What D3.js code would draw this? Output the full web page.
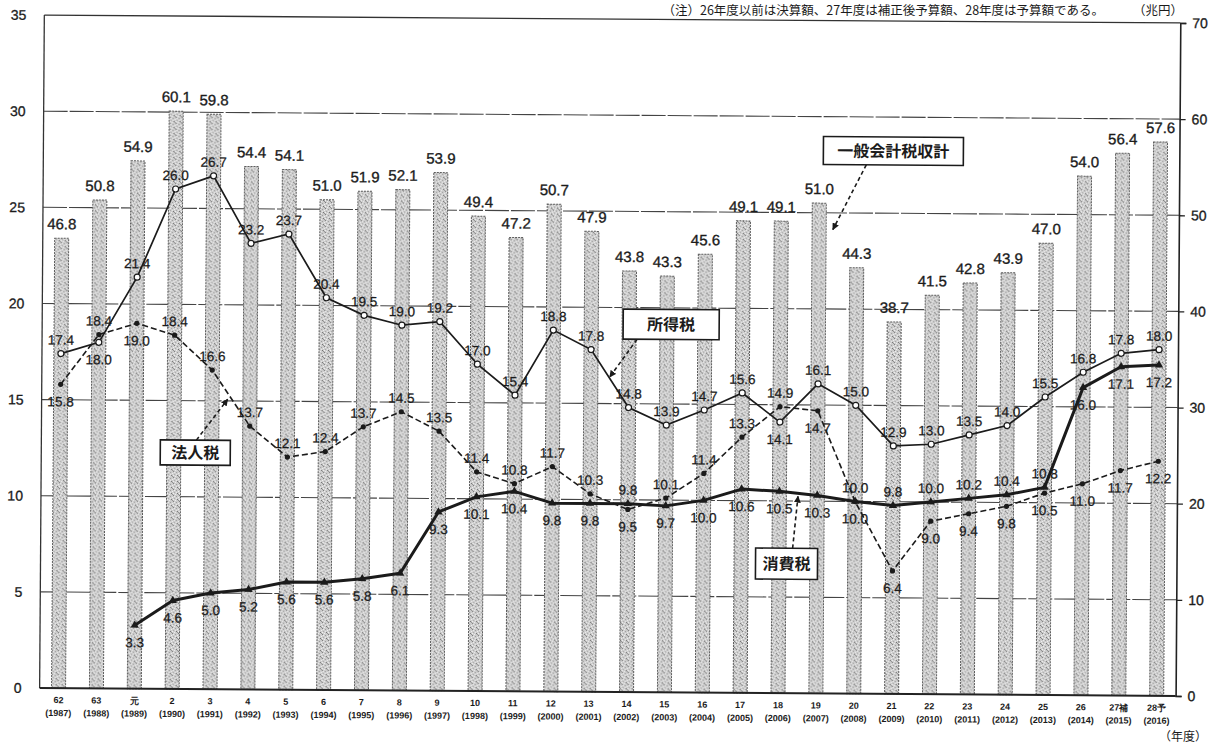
<!DOCTYPE html>
<html>
<head>
<meta charset="utf-8">
<script src="https://cdn.jsdelivr.net/npm/d3@7"></script>
<style>
  html, body { margin: 0; padding: 0; background: #fff; }
  svg { display: block; }
</style>
</head>
<body>
<svg id="chart" width="1209" height="744"></svg>
<script>
// 年度 (Japanese fiscal years) and their western equivalents
const fiscalYears = ["62","63","元","2","3","4","5","6","7","8","9","10","11","12","13","14","15","16","17","18","19","20","21","22","23","24","25","26","27補","28予"];
const westernYears = ["1987","1988","1989","1990","1991","1992","1993","1994","1995","1996","1997","1998","1999","2000","2001","2002","2003","2004","2005","2006","2007","2008","2009","2010","2011","2012","2013","2014","2015","2016"];

// 一般会計税収計 (兆円, right axis)
const totalRevenue = [46.8,50.8,54.9,60.1,59.8,54.4,54.1,51.0,51.9,52.1,53.9,49.4,47.2,50.7,47.9,43.8,43.3,45.6,49.1,49.1,51.0,44.3,38.7,41.5,42.8,43.9,47.0,54.0,56.4,57.6];
// 所得税 (兆円, left axis)
const incomeTax = [17.4,18.0,21.4,26.0,26.7,23.2,23.7,20.4,19.5,19.0,19.2,17.0,15.4,18.8,17.8,14.8,13.9,14.7,15.6,14.1,16.1,15.0,12.9,13.0,13.5,14.0,15.5,16.8,17.8,18.0];
// 法人税 (兆円, left axis)
const corporateTax = [15.8,18.4,19.0,18.4,16.6,13.7,12.1,12.4,13.7,14.5,13.5,11.4,10.8,11.7,10.3,9.5,10.1,11.4,13.3,14.9,14.7,10.0,6.4,9.0,9.4,9.8,10.5,11.0,11.7,12.2];
// 消費税 (兆円, left axis) — introduced in 元年度
const consumptionTax = [null,null,3.3,4.6,5.0,5.2,5.6,5.6,5.8,6.1,9.3,10.1,10.4,9.8,9.8,9.8,9.7,10.0,10.6,10.5,10.3,10.0,9.8,10.0,10.2,10.4,10.8,16.0,17.1,17.2];

const leftTicks = [0,5,10,15,20,25,30,35];
const rightTicks = [0,10,20,30,40,50,60,70];

// Value labels that sit under their point rather than above it
const incomeBelow = new Set(["63","18"]);
const corporateBelow = new Set(["62","元","14","19","20","21","22","23","24","25","26","27補","28予"]);
const consumptionAbove = new Set(["14","20","21","22","23","24","25"]);

const NUM_FONT = "'Liberation Sans Narrow','Arial Narrow','Liberation Sans',Arial,sans-serif";
const JP_FONT = "'Noto Sans CJK JP','Noto Sans',sans-serif";
const INK = "#1b1b1b";

const plot = { left: 42, right: 1178, top: 19, bottom: 692 };

const svg = d3.select("#chart");
const defs = svg.append("defs");

// speckled grey fill for the revenue bars
const pat = defs.append("pattern")
  .attr("id", "stipple").attr("width", 6).attr("height", 6)
  .attr("patternUnits", "userSpaceOnUse");
pat.append("rect").attr("width", 6).attr("height", 6).attr("fill", "#cdcdcd");
[[0,0,"#7a7a7a"],[3,1,"#9a9a9a"],[1,3,"#a8a8a8"],[4,4,"#707070"],[2,5,"#efefef"],
 [5,2,"#f1f1f1"],[0,4,"#f3f3f3"],[3,3,"#e9e9e9"],[5,5,"#8e8e8e"],[1,1,"#eeeeee"]]
  .forEach(([x, y, c]) => pat.append("rect").attr("x", x).attr("y", y)
    .attr("width", 1).attr("height", 1).attr("fill", c));

defs.append("marker")
  .attr("id", "arrowHead").attr("viewBox", "0 0 10 10")
  .attr("refX", 9).attr("refY", 5)
  .attr("markerWidth", 7).attr("markerHeight", 7)
  .attr("markerUnits", "userSpaceOnUse")
  .attr("orient", "auto")
  .append("path").attr("d", "M0,0 L10,5 L0,10 z").attr("fill", INK);

// note line and unit along the top edge
svg.append("text")
  .attr("x", 1104).attr("y", 15)
  .attr("text-anchor", "end")
  .attr("font-family", JP_FONT).attr("font-size", 12.5).attr("fill", INK)
  .text("（注）26年度以前は決算額、27年度は補正後予算額、28年度は予算額である。");
svg.append("text")
  .attr("x", 1183).attr("y", 15)
  .attr("text-anchor", "end")
  .attr("font-family", JP_FONT).attr("font-size", 12.5).attr("fill", INK)
  .text("（兆円）");

// the printed page sits with a slight clockwise tilt
const g = svg.append("g").attr("transform", "rotate(0.4 610 350)");

const x = d3.scaleBand()
  .domain(fiscalYears)
  .range([plot.left, plot.right])
  .paddingInner(0.63)
  .paddingOuter(0.315);
const cx = d => x(d) + x.bandwidth() / 2;

const yL = d3.scaleLinear().domain([0, 35]).range([plot.bottom, plot.top]);
const yR = d3.scaleLinear().domain([0, 70]).range([plot.bottom, plot.top]);

// horizontal gridlines
g.append("g").selectAll("line")
  .data(leftTicks.filter(t => t > 0 && t < 35))
  .join("line")
  .attr("x1", plot.left).attr("x2", plot.right)
  .attr("y1", d => yL(d)).attr("y2", d => yL(d))
  .attr("stroke", "#444").attr("stroke-width", 1.1)
  .attr("stroke-dasharray", "24,2");

// top frame line
g.append("line")
  .attr("x1", plot.left).attr("x2", plot.right)
  .attr("y1", yL(35)).attr("y2", yL(35))
  .attr("stroke", "#333").attr("stroke-width", 1.3);

// revenue bars
g.append("g").selectAll("rect")
  .data(totalRevenue)
  .join("rect")
  .attr("x", (d, i) => x(fiscalYears[i]))
  .attr("width", x.bandwidth())
  .attr("y", d => yR(d))
  .attr("height", d => yR(0) - yR(d))
  .attr("fill", "url(#stipple)")
  .attr("stroke", "#5e5e5e").attr("stroke-width", 1)
  .attr("stroke-dasharray", "2,1");

g.append("g").selectAll("text")
  .data(totalRevenue)
  .join("text")
  .attr("x", (d, i) => cx(fiscalYears[i]))
  .attr("y", d => yR(d) - 9)
  .attr("text-anchor", "middle")
  .attr("font-family", NUM_FONT).attr("font-size", 15).attr("fill", INK)
  .attr("stroke", INK).attr("stroke-width", 0.35)
  .text(d => d.toFixed(1));

// axes frame
g.append("line")
  .attr("x1", plot.left).attr("x2", plot.left)
  .attr("y1", plot.top).attr("y2", plot.bottom)
  .attr("stroke", "#333").attr("stroke-width", 1.3);
g.append("line")
  .attr("x1", plot.left).attr("x2", plot.right)
  .attr("y1", plot.bottom).attr("y2", plot.bottom)
  .attr("stroke", "#222").attr("stroke-width", 2);

// left axis labels
const leftAxis = g.append("g")
  .attr("transform", `translate(${plot.left},0)`)
  .call(d3.axisLeft(yL).tickValues(leftTicks).tickSize(0).tickPadding(18));
leftAxis.select(".domain").remove();
leftAxis.selectAll("text")
  .attr("font-family", NUM_FONT).attr("font-size", 14).attr("fill", INK)
  .attr("stroke", INK).attr("stroke-width", 0.3);

// right axis
const rightAxis = g.append("g")
  .attr("transform", `translate(${plot.right},0)`)
  .call(d3.axisRight(yR).tickValues(rightTicks).tickSize(6).tickPadding(6));
rightAxis.select(".domain").attr("stroke", "#222").attr("stroke-width", 1.6);
rightAxis.selectAll(".tick line").attr("stroke", "#222").attr("stroke-width", 1.3);
rightAxis.selectAll("text")
  .attr("font-family", NUM_FONT).attr("font-size", 14).attr("fill", INK)
  .attr("stroke", INK).attr("stroke-width", 0.3);

// year labels below the axis
const xl = g.append("g");
xl.selectAll("text.fy")
  .data(fiscalYears)
  .join("text").attr("class", "fy")
  .attr("x", d => cx(d)).attr("y", 707)
  .attr("text-anchor", "middle")
  .attr("font-family", NUM_FONT).attr("font-size", 9).attr("font-weight", "bold").attr("fill", INK)
  .text(d => d);
xl.selectAll("text.wy")
  .data(westernYears)
  .join("text").attr("class", "wy")
  .attr("x", (d, i) => cx(fiscalYears[i])).attr("y", 720)
  .attr("text-anchor", "middle")
  .attr("font-family", NUM_FONT).attr("font-size", 9).attr("font-weight", "bold").attr("fill", INK)
  .text(d => `(${d})`);

// unit of the category axis, in the lower right corner
svg.append("text")
  .attr("x", 1207).attr("y", 741)
  .attr("text-anchor", "end")
  .attr("font-family", JP_FONT).attr("font-size", 12).attr("fill", INK)
  .text("（年度）");

// tax lines
const lineGen = d3.line()
  .defined(d => d.v != null)
  .x(d => cx(d.k))
  .y(d => yL(d.v));
const pts = arr => arr.map((v, i) => ({ k: fiscalYears[i], v }));

function valueLabels(data, isBelow) {
  g.append("g").selectAll("text")
    .data(pts(data).filter(d => d.v != null))
    .join("text")
    .attr("x", d => cx(d.k))
    .attr("y", d => yL(d.v) + (isBelow(d.k) ? 22 : -9))
    .attr("text-anchor", "middle")
    .attr("font-family", NUM_FONT).attr("font-size", 13.5).attr("fill", INK)
    .attr("stroke", INK).attr("stroke-width", 0.25)
    .text(d => d.v.toFixed(1));
}

// 消費税: heavy line
g.append("path")
  .datum(pts(consumptionTax))
  .attr("d", lineGen)
  .attr("fill", "none").attr("stroke", INK).attr("stroke-width", 3)
  .attr("stroke-linejoin", "round");
g.append("g").selectAll("path")
  .data(pts(consumptionTax).filter(d => d.v != null))
  .join("path")
  .attr("transform", d => `translate(${cx(d.k)},${yL(d.v)})`)
  .attr("d", d3.symbol(d3.symbolTriangle, 30))
  .attr("fill", INK);

// 法人税: dashed line
g.append("path")
  .datum(pts(corporateTax))
  .attr("d", lineGen)
  .attr("fill", "none").attr("stroke", INK).attr("stroke-width", 1.6)
  .attr("stroke-dasharray", "6,3");
g.append("g").selectAll("circle")
  .data(pts(corporateTax))
  .join("circle")
  .attr("cx", d => cx(d.k)).attr("cy", d => yL(d.v))
  .attr("r", 2.6).attr("fill", INK);

// 所得税: thin solid line with open markers
g.append("path")
  .datum(pts(incomeTax))
  .attr("d", lineGen)
  .attr("fill", "none").attr("stroke", INK).attr("stroke-width", 1.7);
g.append("g").selectAll("circle")
  .data(pts(incomeTax))
  .join("circle")
  .attr("cx", d => cx(d.k)).attr("cy", d => yL(d.v))
  .attr("r", 3).attr("fill", "#fff").attr("stroke", INK).attr("stroke-width", 1.2);

valueLabels(incomeTax, k => incomeBelow.has(k));
valueLabels(corporateTax, k => corporateBelow.has(k));
valueLabels(consumptionTax, k => !consumptionAbove.has(k));

// callout boxes with dashed pointers
function callout(label, box, from, to) {
  g.append("line")
    .attr("x1", from[0]).attr("y1", from[1])
    .attr("x2", to[0]).attr("y2", to[1])
    .attr("stroke", INK).attr("stroke-width", 1.6)
    .attr("stroke-dasharray", "4,3")
    .attr("marker-end", "url(#arrowHead)");
  g.append("rect")
    .attr("x", box[0]).attr("y", box[1])
    .attr("width", box[2]).attr("height", box[3])
    .attr("fill", "#fff").attr("stroke", INK).attr("stroke-width", 1.6);
  g.append("text")
    .attr("x", box[0] + box[2] / 2).attr("y", box[1] + box[3] / 2 + 6)
    .attr("text-anchor", "middle")
    .attr("font-family", JP_FONT).attr("font-size", 16).attr("font-weight", "bold")
    .attr("fill", INK)
    .text(label);
}
callout("一般会計税収計", [822, 135, 140, 28], [865, 163], [832, 228]);
callout("所得税", [623, 309, 96, 30], [637, 339], [610, 377]);
callout("法人税", [161, 443, 70, 25], [197, 443], [228, 402]);
callout("消費税", [757, 547, 62, 31], [794, 547], [799, 495]);
</script>
</body>
</html>
